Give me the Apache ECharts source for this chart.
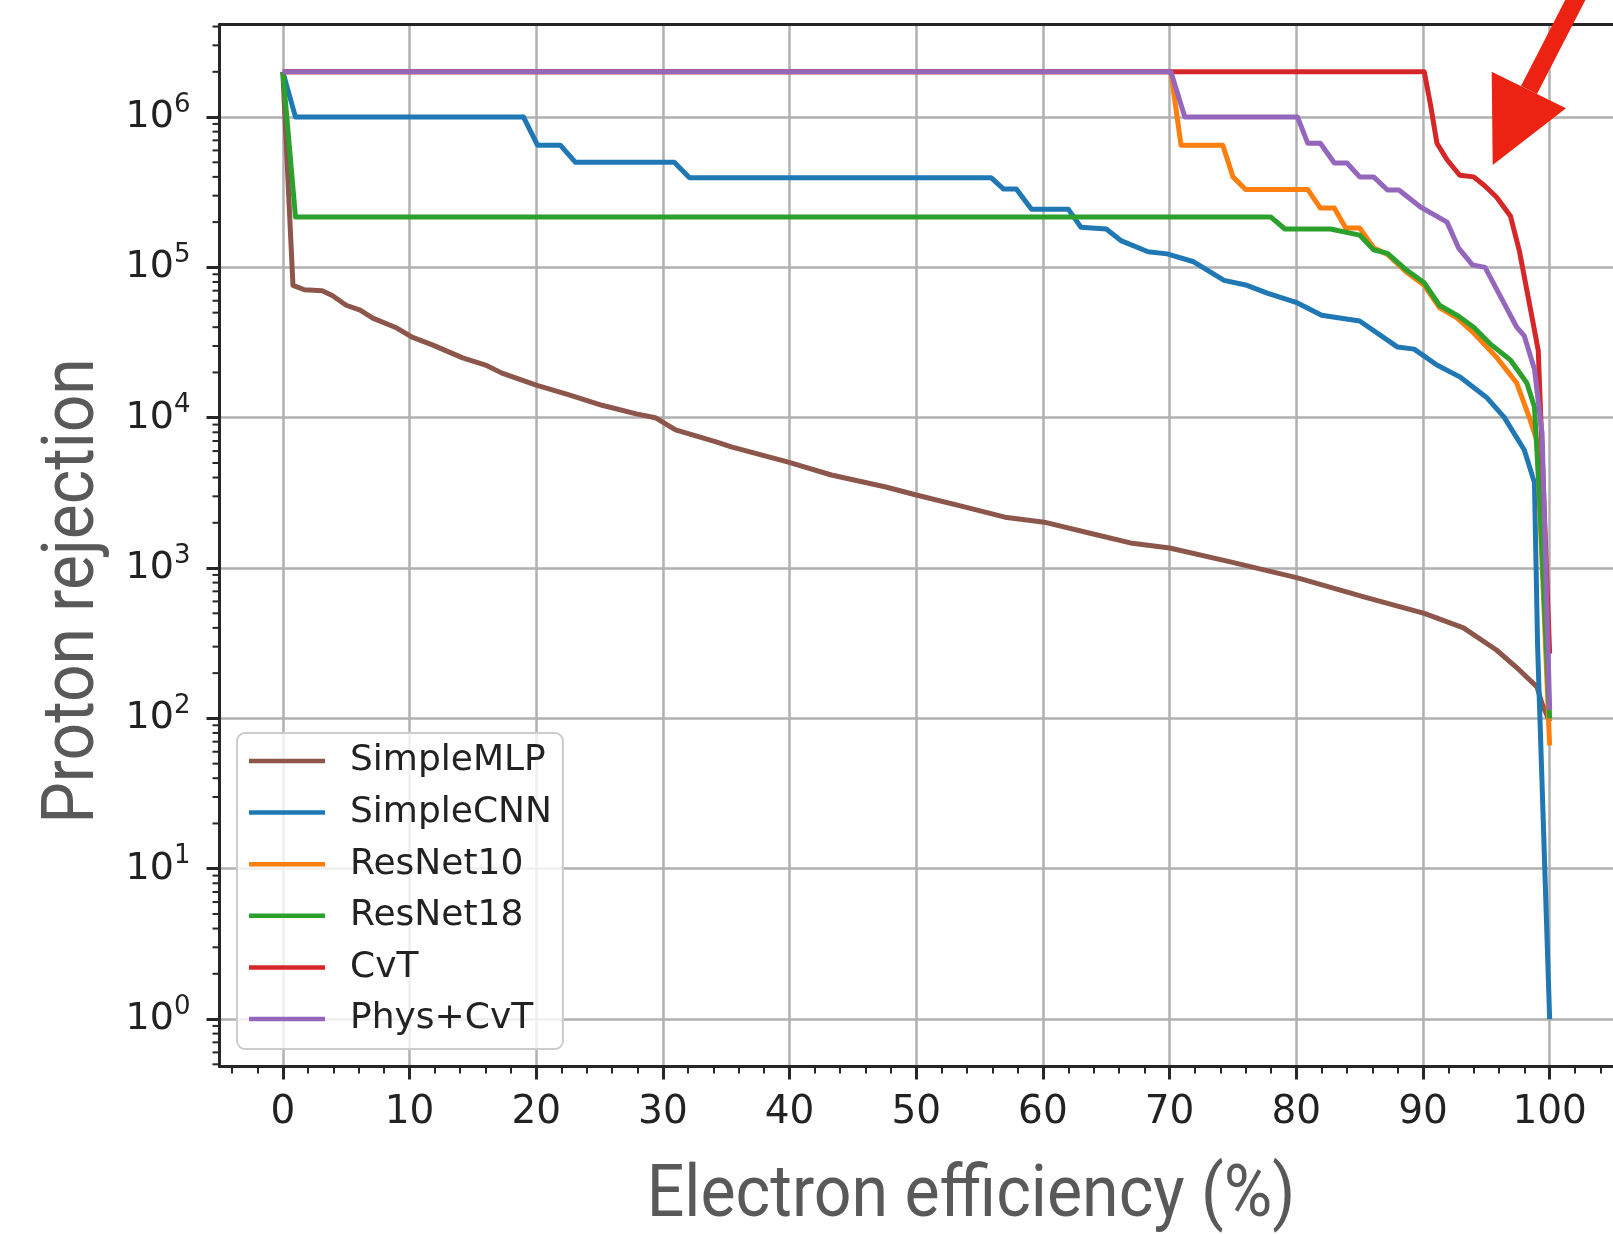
<!DOCTYPE html>
<html>
<head>
<meta charset="utf-8">
<title>Proton rejection vs electron efficiency</title>
<script src="https://cdn.jsdelivr.net/npm/echarts@6/dist/echarts.min.js"></script>
<style>
  html, body { margin: 0; padding: 0; background: #ffffff; }
  #main { width: 1613px; height: 1234px; }
</style>
</head>
<body>
<div id="main"></div>
<script>
// Rejection curves: [electron efficiency (%), proton rejection]
const simpleMLP = [
  [0, 2.0e6], [0.8, 7.6e4], [1.7, 7.1e4], [3.1, 7.0e4], [3.9, 6.5e4], [5.0, 5.6e4],
  [6.1, 5.2e4], [7.1, 4.6e4], [9.0, 3.95e4], [10.2, 3.44e4], [11.8, 3.05e4], [14.2, 2.5e4],
  [16.0, 2.24e4], [17.3, 1.98e4], [20.0, 1.65e4], [22.6, 1.42e4], [25.2, 1.21e4], [27.9, 1.06e4],
  [29.4, 1.0e4], [31.0, 8.3e3], [34.2, 6.9e3], [35.4, 6.4e3], [39.9, 5.07e3], [43.3, 4.16e3],
  [47.6, 3.46e3], [50.0, 3.06e3], [53.8, 2.55e3], [57.0, 2.18e3], [60.1, 2.02e3], [64.3, 1.66e3],
  [66.9, 1.47e3], [70.0, 1.36e3], [74.8, 1.10e3], [80.1, 860], [85.4, 640], [90.1, 500],
  [93.2, 400], [95.8, 285], [97.6, 210], [99.0, 162], [99.4, 125], [100, 95]
];
const simpleCNN = [
  [0, 2.0e6], [1.0, 1.0e6], [19.0, 1.0e6], [20.1, 6.5e5], [21.9, 6.5e5], [23.1, 5.0e5],
  [30.9, 5.0e5], [32.1, 3.95e5], [55.9, 3.95e5], [56.9, 3.32e5], [57.9, 3.32e5], [59.1, 2.44e5],
  [62.0, 2.44e5], [63.0, 1.85e5], [65.0, 1.8e5], [66.2, 1.5e5], [68.3, 1.27e5], [69.8, 1.23e5],
  [71.9, 1.09e5], [74.3, 8.2e4], [76.1, 7.6e4], [77.7, 6.75e4], [80.1, 5.8e4], [82.0, 4.8e4],
  [85.0, 4.4e4], [88.0, 2.95e4], [89.3, 2.86e4], [91.1, 2.24e4], [92.9, 1.87e4], [95.0, 1.37e4],
  [96.4, 1.01e4], [98.0, 6.1e3], [98.8, 3.7e3], [99.05, 300], [100, 1]
];
const resNet10 = [
  [0, 2.0e6], [70.1, 2.0e6], [70.9, 6.5e5], [74.2, 6.5e5], [75.0, 4.0e5], [76.0, 3.3e5],
  [80.9, 3.3e5], [81.9, 2.48e5], [83.0, 2.48e5], [83.9, 1.83e5], [85.0, 1.83e5], [86.1, 1.35e5],
  [87.2, 1.22e5], [88.7, 9.3e4], [90.1, 7.6e4], [91.3, 5.4e4], [92.7, 4.6e4], [94.0, 3.66e4],
  [95.8, 2.53e4], [97.4, 1.7e4], [98.4, 1.0e4], [99.0, 7.0e3], [100, 66]
];
const resNet18 = [
  [0, 2.0e6], [1.0, 2.16e5], [78.0, 2.16e5], [79.1, 1.8e5], [82.7, 1.8e5], [85.0, 1.64e5],
  [86.1, 1.31e5], [87.2, 1.24e5], [88.7, 9.6e4], [90.1, 7.9e4], [91.3, 5.6e4], [92.7, 4.8e4],
  [94.0, 4.0e4], [95.3, 3.1e4], [96.9, 2.42e4], [98.2, 1.7e4], [98.8, 1.18e4], [99.2, 3.0e3],
  [100, 100]
];
const cvt = [
  [0, 2.0e6], [90.1, 2.0e6], [90.6, 1.2e6], [91.1, 6.7e5], [91.9, 5.2e5], [92.9, 4.1e5],
  [94.0, 4.0e5], [94.8, 3.53e5], [95.8, 2.94e5], [96.9, 2.2e5], [97.6, 1.3e5], [98.6, 4.7e4],
  [99.1, 2.8e4], [100, 270]
];
const physCvt = [
  [0, 2.0e6], [70.1, 2.0e6], [71.2, 1.0e6], [80.1, 1.0e6], [80.9, 6.7e5], [81.9, 6.7e5],
  [83.0, 4.95e5], [84.0, 4.95e5], [85.0, 4.0e5], [86.1, 4.0e5], [87.2, 3.27e5], [88.1, 3.27e5],
  [89.8, 2.52e5], [91.9, 2.0e5], [92.8, 1.35e5], [93.9, 1.04e5], [94.9, 1.0e5], [95.8, 7.2e4],
  [97.4, 4.0e4], [98.0, 3.5e4], [98.8, 2.1e4], [99.4, 7.9e3], [100, 114]
];

const seriesNames = ['SimpleMLP', 'SimpleCNN', 'ResNet10', 'ResNet18', 'CvT', 'Phys+CvT'];
const seriesColors = ['#8c564b', '#1f77b4', '#ff7f0e', '#2ca02c', '#d62728', '#9467bd'];
const seriesData = [simpleMLP, simpleCNN, resNet10, resNet18, cvt, physCvt];

// Axis ranges and ticks
const xMin = -5, xMax = 105;
const yMin = 0.4842, yMax = 4.121e6;
const xMajorTicks = [0, 10, 20, 30, 40, 50, 60, 70, 80, 90, 100];
const xMinorTicks = [-4, -2, 2, 4, 6, 8, 12, 14, 16, 18, 22, 24, 26, 28, 32, 34, 36, 38,
  42, 44, 46, 48, 52, 54, 56, 58, 62, 64, 66, 68, 72, 74, 76, 78, 82, 84, 86, 88,
  92, 94, 96, 98, 102, 104];
const yMinorMantissas = [2, 3, 4, 5, 6, 7, 8, 9];
const yDecades = [0.1, 1, 10, 100, 1e3, 1e4, 1e5, 1e6];
const yMinorTicks = [];
yDecades.forEach(d => yMinorMantissas.forEach(m => {
  const v = m * d;
  if (v >= yMin && v <= yMax) yMinorTicks.push(v);
}));

const ink = '#262626';
const tickFont = 'DejaVu Sans';
const titleFont = 'Roboto';

const lineSeries = seriesNames.map((name, i) => ({
  name: name,
  type: 'line',
  xAxisIndex: 0,
  yAxisIndex: 0,
  data: seriesData[i],
  showSymbol: false,
  symbol: 'none',
  clip: true,
  z: 3,
  lineStyle: { color: seriesColors[i], width: 5, join: 'round', cap: 'butt' },
  itemStyle: { color: seriesColors[i] },
  emphasis: { disabled: true }
}));

// Minor log ticks on the left spine
const minorTickSeries = {
  type: 'custom',
  xAxisIndex: 0,
  yAxisIndex: 0,
  silent: true,
  clip: false,
  z: 5,
  data: yMinorTicks.map(v => [xMin, v]),
  renderItem: function (params, api) {
    const p = api.coord([api.value(0), api.value(1)]);
    return {
      type: 'line',
      shape: { x1: p[0] - 7, y1: p[1], x2: p[0], y2: p[1] },
      style: { stroke: ink, lineWidth: 2 }
    };
  }
};

const option = {
  backgroundColor: '#ffffff',
  animation: false,
  grid: { left: 219.5, top: 24.6, width: 1397, height: 1041.8, show: false },
  xAxis: [
    {
      type: 'value', min: xMin, max: xMax, position: 'bottom',
      axisLine: { show: true, onZero: false, lineStyle: { color: ink, width: 3 } },
      axisTick: { show: true, customValues: xMajorTicks, length: 13, lineStyle: { color: ink, width: 3 } },
      axisLabel: { show: true, customValues: xMajorTicks, margin: 27, fontFamily: tickFont, fontSize: 39, color: '#222222' },
      splitLine: { show: true, lineStyle: { color: '#b0b0b0', width: 2.5 } }
    },
    {
      type: 'value', min: xMin, max: xMax, position: 'bottom',
      axisLine: { show: false, onZero: false },
      axisTick: { show: true, customValues: xMinorTicks, length: 7, lineStyle: { color: ink, width: 2 } },
      axisLabel: { show: false },
      splitLine: { show: false }
    },
    {
      type: 'value', min: xMin, max: xMax, position: 'top',
      axisLine: { show: true, onZero: false, lineStyle: { color: ink, width: 3 } },
      axisTick: { show: false },
      axisLabel: { show: false },
      splitLine: { show: false }
    }
  ],
  yAxis: {
    type: 'log', logBase: 10, min: yMin, max: yMax, position: 'left',
    axisLine: { show: true, onZero: false, lineStyle: { color: ink, width: 3 } },
    axisTick: { show: true, length: 13, lineStyle: { color: ink, width: 3 } },
    axisLabel: {
      show: true, margin: 29, showMinLabel: false, showMaxLabel: false,
      formatter: function (v) {
        const lg = Math.log10(v);
        const e = Math.round(lg);
        if (Math.abs(lg - e) > 1e-6) return '';
        return '{b|10}{s|' + e + '}';
      },
      rich: {
        b: { fontFamily: tickFont, fontSize: 38, color: '#222222', lineHeight: 50 },
        s: { fontFamily: tickFont, fontSize: 26, color: '#222222', lineHeight: 26, verticalAlign: 'top' }
      }
    },
    splitLine: { show: true, showMinLine: false, showMaxLine: false, lineStyle: { color: '#b0b0b0', width: 2.5 } },
    minorTick: { show: false }
  },
  legend: {
    orient: 'vertical', left: 237, top: 733,
    data: seriesNames,
    icon: 'rect', itemWidth: 76, itemHeight: 4.5, itemGap: 15.6,
    padding: [10, 11, 12, 12],
    backgroundColor: 'rgba(255,255,255,0.8)',
    borderColor: '#cccccc', borderWidth: 2, borderRadius: 8,
    selectedMode: false,
    textStyle: { fontFamily: tickFont, fontSize: 36, color: '#222222', lineHeight: 36, padding: [0, 0, 0, 20] }
  },
  graphic: [
    {
      type: 'text', x: 971, y: 1198, scaleX: 0.92, silent: true,
      style: { text: 'Electron efficiency (%)', fontFamily: titleFont, fontSize: 72, fill: '#595959', align: 'center', verticalAlign: 'middle' }
    },
    {
      type: 'text', x: 75, y: 591, rotation: Math.PI / 2, scaleX: 0.915, silent: true,
      style: { text: 'Proton rejection', fontFamily: titleFont, fontSize: 72, fill: '#595959', align: 'center', verticalAlign: 'middle' }
    },
    {
      type: 'line', silent: true, z: 100,
      shape: { x1: 1529, y1: 90, x2: 1583, y2: -15 },
      style: { stroke: '#ec2212', lineWidth: 18 }
    },
    {
      type: 'polygon', silent: true, z: 100,
      shape: { points: [[1492.7, 165], [1491.7, 71.7], [1566, 108.3]] },
      style: { fill: '#ec2212' }
    }
  ],
  series: lineSeries.concat([minorTickSeries])
};

const chart = echarts.init(document.getElementById('main'), null, { renderer: 'canvas' });
chart.setOption(option);
</script>
</body>
</html>
